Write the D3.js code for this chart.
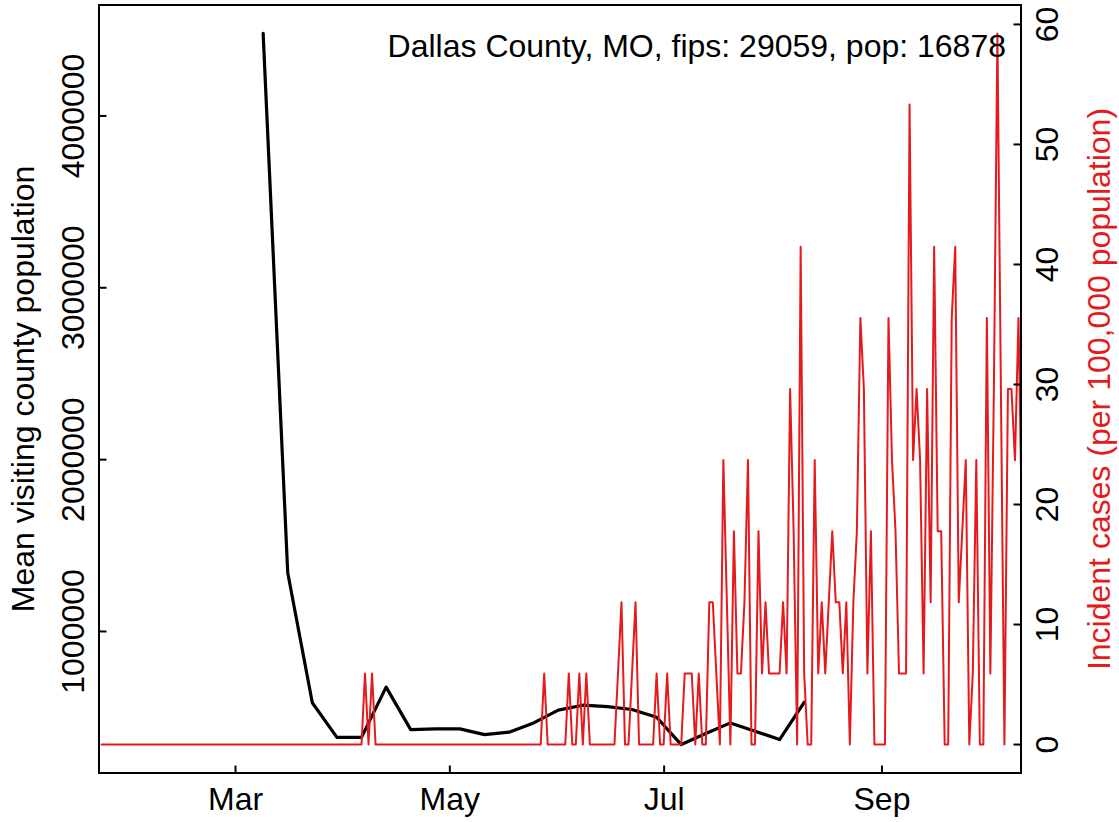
<!DOCTYPE html>
<html>
<head>
<meta charset="utf-8">
<script src="https://cdn.jsdelivr.net/npm/d3@7"></script>
<style>
body{margin:0;background:#fff;}
text{font-family:"Liberation Sans",Arial,sans-serif;font-size:32px;}
</style>
</head>
<body>
<div id="graph"></div>
<script>
var width=1119;
var height=822;

var title="Dallas County, MO, fips: 29059, pop: 16878";
var population=16878;

// weekly mean visiting county population
var visitWeeks=["2020-03-09","2020-03-16","2020-03-23","2020-03-30","2020-04-06","2020-04-13",
	"2020-04-20","2020-04-27","2020-05-04","2020-05-11","2020-05-18","2020-05-25","2020-06-01",
	"2020-06-08","2020-06-15","2020-06-22","2020-06-29","2020-07-06","2020-07-13","2020-07-20",
	"2020-07-27","2020-08-03","2020-08-10"];
var visitPop=[4480000,1342000,585000,384000,384000,676000,429000,433000,433000,400000,414000,
	468000,542000,571000,563000,546000,501000,342000,406000,468000,420000,371000,588000];

// daily new cases, starting at caseStart
var caseStart="2020-01-23";
var dailyCases=[
	0,0,0,0,0,0,0,0,0,0,0,0,0,0,0,0,0,0,0,0,0,0,0,0,0,
	0,0,0,0,0,0,0,0,0,0,0,0,0,0,0,0,0,0,0,0,0,0,0,0,0,
	0,0,0,0,0,0,0,0,0,0,0,0,0,0,0,0,0,0,0,0,0,0,0,0,0,
	1,0,1,0,0,0,0,0,0,0,0,0,0,0,0,0,0,0,0,0,0,0,0,0,0,
	0,0,0,0,0,0,0,0,0,0,0,0,0,0,0,0,0,0,0,0,0,0,0,0,0,
	0,1,0,0,0,0,0,0,1,0,0,1,0,1,0,0,0,0,0,0,0,0,1,2,0,
	0,1,2,0,0,0,0,0,1,0,0,1,0,0,0,0,1,1,1,0,1,0,0,2,2,
	1,0,4,2,0,3,1,1,2,4,0,0,3,1,2,1,1,1,1,2,1,5,3,0,7,
	1,0,0,4,1,2,1,2,3,2,2,1,2,0,2,3,6,5,1,3,0,0,0,0,6,
	4,3,1,1,1,9,4,5,4,1,5,2,7,3,3,0,0,6,7,2,3,4,0,1,4,
	0,0,6,1,5,10,5,0,5,5,4,6,3];

var xLimits=["2020-02-01","2020-10-01"];
var xTicks=["2020-03-01","2020-05-01","2020-07-01","2020-09-01"];
var xTickLabels=["Mar","May","Jul","Sep"];
var leftTicks=[1000000,2000000,3000000,4000000];
var rightTicks=[0,10,20,30,40,50,60];

var red="#e41a1c";
var box={left:99,right:1021,top:5,bottom:773};

var parse=d3.utcParse("%Y-%m-%d");

// R style 4% axis expansion
function pad(lo,hi){
	var d=(hi-lo)*0.04;
	return [lo-d,hi+d];
}

var visits=visitWeeks.map(function(d,i){return {date:parse(d),value:visitPop[i]};});
var cases=dailyCases.map(function(c,i){
	return {date:d3.utcDay.offset(parse(caseStart),i),value:c/population*100000};
});

var xl=xLimits.map(function(d){return +parse(d);});
var x=d3.scaleUtc().domain(pad(xl[0],xl[1]).map(function(t){return new Date(t);}))
	.range([box.left,box.right]);
var yLeft=d3.scaleLinear().domain(pad.apply(null,d3.extent(visitPop))).range([box.bottom,box.top]);
var yRight=d3.scaleLinear().domain(pad(0,d3.max(cases,function(d){return d.value;}))).range([box.bottom,box.top]);

var svg=d3.select('#graph').append('svg').attr('width',width).attr('height',height);

svg.append('clipPath').attr('id','plotclip').append('rect')
	.attr('x',box.left).attr('y',box.top)
	.attr('width',box.right-box.left).attr('height',box.bottom-box.top);

var plot=svg.append('g').attr('clip-path','url(#plotclip)');

plot.append('path').datum(visits)
	.attr('d',d3.line().x(function(d){return x(d.date);}).y(function(d){return yLeft(d.value);}))
	.attr('fill','none').attr('stroke','#000').attr('stroke-width',3.2)
	.attr('stroke-linejoin','round').attr('stroke-linecap','round');

plot.append('path').datum(cases)
	.attr('d',d3.line().x(function(d){return x(d.date);}).y(function(d){return yRight(d.value);}))
	.attr('fill','none').attr('stroke',red).attr('stroke-width',2)
	.attr('stroke-linejoin','round').attr('stroke-linecap','round');

// box
svg.append('rect').attr('x',box.left).attr('y',box.top)
	.attr('width',box.right-box.left).attr('height',box.bottom-box.top)
	.attr('fill','none').attr('stroke','#000').attr('stroke-width',2);

// bottom axis (inward ticks)
var bottomAxis=d3.axisBottom(x).tickValues(xTicks.map(parse))
	.tickFormat(function(d,i){return xTickLabels[i];}).tickSize(-7.5).tickPadding(18);
var gb=svg.append('g').attr('transform','translate(0,'+box.bottom+')').call(bottomAxis);
gb.select('.domain').remove();
gb.selectAll('line').attr('stroke','#000').attr('stroke-width',2);
gb.selectAll('text').attr('fill','#000').style('font-size','32px').attr('dy',null).attr('y',37);

// left axis
var ga=svg.append('g');
ga.selectAll('line').data(leftTicks).enter().append('line')
	.attr('x1',box.left).attr('x2',box.left+7.5)
	.attr('y1',function(d){return yLeft(d);}).attr('y2',function(d){return yLeft(d);})
	.attr('stroke','#000').attr('stroke-width',2);
ga.selectAll('text').data(leftTicks).enter().append('text')
	.attr('transform',function(d){return 'translate(84,'+yLeft(d)+') rotate(-90)';})
	.attr('text-anchor','middle').text(d3.format('d'));

// right axis
var gr=svg.append('g');
gr.selectAll('line').data(rightTicks).enter().append('line')
	.attr('x1',box.right-7.5).attr('x2',box.right)
	.attr('y1',function(d){return yRight(d);}).attr('y2',function(d){return yRight(d);})
	.attr('stroke','#000').attr('stroke-width',2);
gr.selectAll('text').data(rightTicks).enter().append('text')
	.attr('transform',function(d){return 'translate(1058,'+yRight(d)+') rotate(-90)';})
	.attr('text-anchor','middle').text(function(d){return d;});

// axis titles
svg.append('text').attr('transform','translate(34,'+(box.top+box.bottom)/2+') rotate(-90)')
	.attr('text-anchor','middle').text('Mean visiting county population');
svg.append('text').attr('transform','translate(1110,'+(box.top+box.bottom)/2+') rotate(-90)')
	.attr('text-anchor','middle').attr('fill',red).text('Incident cases (per 100,000 population)');

svg.append('text').attr('x',1006).attr('y',57).attr('text-anchor','end').text(title);
</script>
</body>
</html>
